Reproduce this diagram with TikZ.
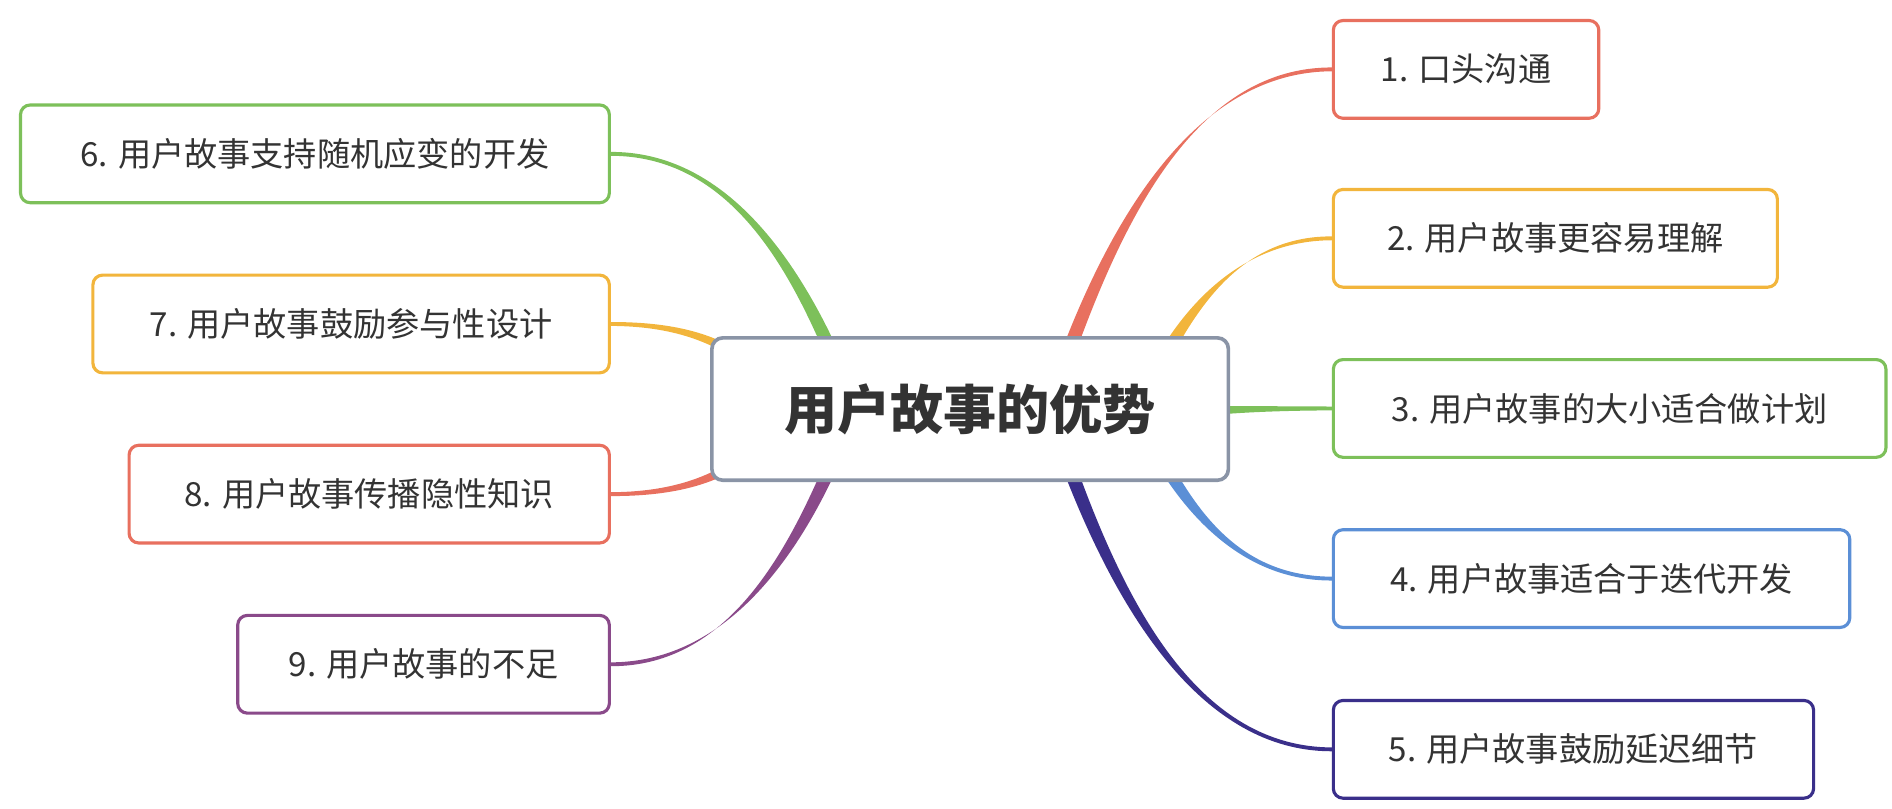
\documentclass[tikz,border=0pt]{standalone}
\usepackage{fontspec}
\setmainfont{Noto Sans CJK SC}
\usetikzlibrary{calc}
\definecolor{MapRed}{HTML}{E8705F}
\definecolor{MapOrange}{HTML}{F2B53C}
\definecolor{MapGreen}{HTML}{7DC05A}
\definecolor{MapBlue}{HTML}{5B8FD6}
\definecolor{MapNavy}{HTML}{3A2F8A}
\definecolor{MapPurple}{HTML}{8A4A8A}
\definecolor{MapGray}{HTML}{8A94A6}
\definecolor{MapText}{HTML}{333333}
\tikzset{
  topic/.style={draw=#1, line width=2.6pt, rounded corners=8pt, fill=white,
    minimum height=81pt, font=\fontsize{27.5pt}{31pt}\selectfont, text=MapText},
  root/.style={draw=MapGray, line width=3pt, rounded corners=9pt, fill=white,
    minimum width=428pt, minimum height=118pt,
    font=\fontsize{44pt}{50pt}\selectfont\bfseries, text=MapText}
}
% tapered branch: colour, start, end, half width at start
\newcommand{\branch}[5]{%
  \fill[#1] let \p1=(#2), \p2=(#3), \p3=($(\p1)!0.5!(\p2)$) in
    ($(\p1)+(#4,#5)$) .. controls ($(\x1+0.2*\x2-0.2*\x1,\y3)+0.8*(#4,#5)$)
      and (\x3,\y2+1.8pt) .. ($(\p2)+(0,1.6pt)$)
    -- ($(\p2)-(0,1.6pt)$) .. controls (\x3,\y2-1.8pt)
      and ($(\x1+0.2*\x2-0.2*\x1,\y3)-0.8*(#4,#5)$) .. ($(\p1)-(#4,#5)$) -- cycle;}
\begin{document}
\begin{tikzpicture}[x=1pt,y=-1pt]
\useasboundingbox (0,0) rectangle (1568,670);
% topics
\node[topic=MapRed, minimum width=220pt] (t1) at (1215,57.5) {1. 口头沟通};
\node[topic=MapOrange, minimum width=368pt] (t2) at (1289,197.5) {2. 用户故事更容易理解};
\node[topic=MapGreen, minimum width=458pt] (t3) at (1334,338.5) {3. 用户故事的大小适合做计划};
\node[topic=MapBlue, minimum width=428pt] (t4) at (1319,479.5) {4. 用户故事适合于迭代开发};
\node[topic=MapNavy, minimum width=398pt] (t5) at (1304,621) {5. 用户故事鼓励延迟细节};
\node[topic=MapGreen, minimum width=488pt] (t6) at (261,127.5) {6. 用户故事支持随机应变的开发};
\node[topic=MapOrange, minimum width=428pt] (t7) at (291,268.5) {7. 用户故事鼓励参与性设计};
\node[topic=MapRed, minimum width=398pt] (t8) at (306,409.5) {8. 用户故事传播隐性知识};
\node[topic=MapPurple, minimum width=308pt] (t9) at (351,550.5) {9. 用户故事的不足};
% branches
\coordinate (s1) at (888,285);
\coordinate (s2) at (968,290);
\coordinate (s3) at (1010,340);
\coordinate (s4) at (968,390);
\coordinate (s5) at (888,392);
\coordinate (s6) at (686,285);
\coordinate (s7) at (600,288);
\coordinate (s8) at (600,390);
\coordinate (s9) at (686,392);
\branch{MapRed}{s1}{t1.west}{6pt}{0}
\branch{MapOrange}{s2}{t2.west}{6pt}{0}
\branch{MapGreen}{s3}{t3.west}{0}{3.5pt}
\branch{MapBlue}{s4}{t4.west}{6pt}{0}
\branch{MapNavy}{s5}{t5.west}{6pt}{0}
\branch{MapGreen}{s6}{t6.east}{6pt}{0}
\branch{MapOrange}{s7}{t7.east}{0}{4pt}
\branch{MapRed}{s8}{t8.east}{0}{4pt}
\branch{MapPurple}{s9}{t9.east}{6pt}{0}
% root
\node[root] (core) at (804,339) {用户故事的优势};
\end{tikzpicture}
\end{document}
